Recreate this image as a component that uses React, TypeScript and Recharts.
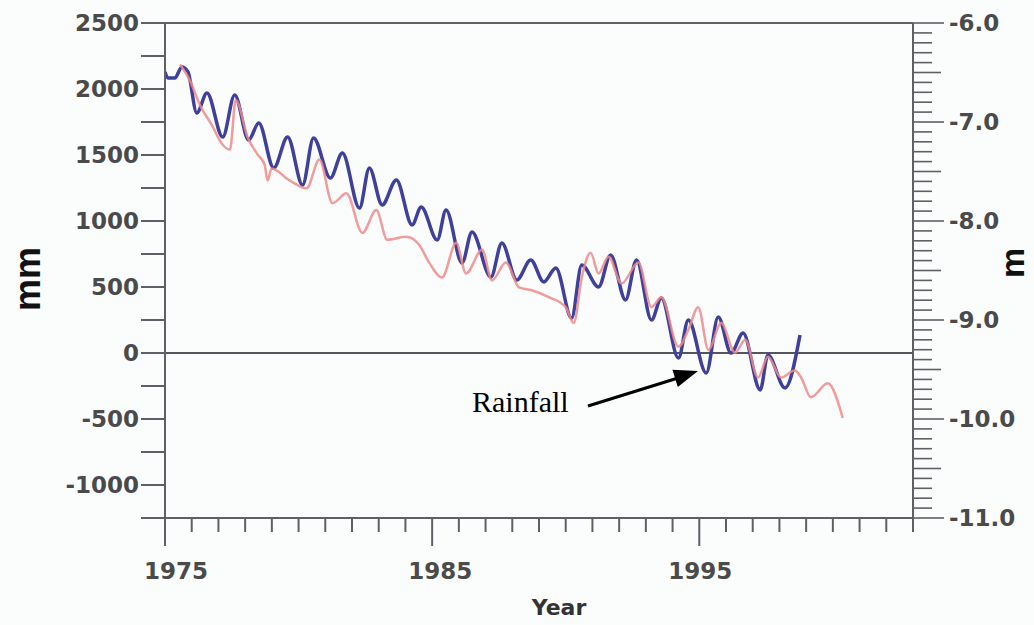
import React from 'react';
import { LineChart, Line, XAxis, YAxis, ReferenceLine } from 'recharts';

// ---- data ----
const rainfallYears = [1975.0, 1975.11, 1975.37, 1975.63, 1975.86, 1976.19, 1976.57, 1977.16, 1977.61, 1978.13, 1978.51, 1979.07, 1979.59, 1980.15, 1980.56, 1981.19, 1981.64, 1982.28, 1982.65, 1983.13, 1983.66, 1984.25, 1984.59, 1985.19, 1985.52, 1986.12, 1986.49, 1987.2, 1987.61, 1988.17, 1988.69, 1989.18, 1989.63, 1990.22, 1990.6, 1991.23, 1991.68, 1992.24, 1992.65, 1993.21, 1993.58, 1994.22, 1994.59, 1995.26, 1995.71, 1996.19, 1996.64, 1997.28, 1997.57, 1998.21, 1998.77];
const rainfallMm = [2129, 2083, 2083, 2167, 2129, 1818, 1970, 1636, 1955, 1614, 1742, 1402, 1636, 1273, 1629, 1326, 1515, 1098, 1402, 1121, 1311, 970, 1106, 856, 1083, 682, 917, 576, 833, 553, 705, 538, 644, 265, 667, 500, 742, 402, 705, 250, 417, -38, 250, -152, 273, 0, 152, -280, -15, -265, 136];

const levelYears = [1975.56, 1975.93, 1976.31, 1976.75, 1977.16, 1977.43, 1977.65, 1978.1, 1978.47, 1978.73, 1978.84, 1978.99, 1979.66, 1980.3, 1980.78, 1981.27, 1981.79, 1982.39, 1982.91, 1983.32, 1984.03, 1984.51, 1984.89, 1985.37, 1985.9, 1986.27, 1986.87, 1987.24, 1987.76, 1988.25, 1988.73, 1989.37, 1990.0, 1990.3, 1990.6, 1990.93, 1991.23, 1991.6, 1992.09, 1992.72, 1993.21, 1993.58, 1994.22, 1994.59, 1994.96, 1995.34, 1995.82, 1996.34, 1996.72, 1997.2, 1997.57, 1998.06, 1998.58, 1998.81, 1999.18, 1999.81, 2000.37];
const levelM = [-6.42, -6.58, -6.83, -7.03, -7.23, -7.28, -6.78, -7.16, -7.33, -7.43, -7.59, -7.47, -7.59, -7.67, -7.38, -7.82, -7.72, -8.12, -7.89, -8.19, -8.16, -8.24, -8.42, -8.57, -8.22, -8.53, -8.29, -8.6, -8.42, -8.67, -8.7, -8.77, -8.87, -9.03, -8.57, -8.32, -8.53, -8.36, -8.63, -8.42, -8.87, -8.77, -9.27, -9.1, -8.87, -9.3, -9.03, -9.33, -9.2, -9.58, -9.37, -9.58, -9.51, -9.58, -9.78, -9.64, -9.99];

const leftLabelTicks = [2500, 2000, 1500, 1000, 500, 0, -500, -1000];
const rightLabelTicks = [-6, -7, -8, -9, -10, -11];
const yearLabelTicks = [1975, 1985, 1995];

// ---- axis tick positions ----
const leftTicks: number[] = [];
for (let v = -1250; v <= 2500; v += 250) leftTicks.push(v);
const rightTicks: number[] = [];
for (let i = 0; i <= 50; i++) rightTicks.push(Math.round((-11 + i * 0.1) * 10) / 10);
const yearTicks: number[] = [];
for (let y = 1975; y <= 2003; y++) yearTicks.push(y);

const rainfallData = rainfallYears.map((year, i) => ({ year, v: rainfallMm[i] }));
const levelData = levelYears.map((year, i) => ({ year, v: levelM[i] }));

const AXIS = '#5f5f66';
const LABEL = '#4a4a4a';
const FONT = '"DejaVu Sans", Verdana, sans-serif';

const LeftTick = (props: any) => {
  const { x, y, payload } = props;
  const v = payload.value;
  const labeled = leftLabelTicks.includes(v);
  return (
    <g>
      <line x1={x - 24} x2={x} y1={y} y2={y} stroke={AXIS} strokeWidth={2} />
      {labeled && (
        <text x={x - 26} y={y} dy="0.36em" textAnchor="end" fontFamily={FONT} fontWeight="bold" fontSize={23} fill={LABEL}>
          {v}
        </text>
      )}
    </g>
  );
};

const RightTick = (props: any) => {
  const { x, y, payload } = props;
  const v = payload.value;
  const tenth = Math.round(v * 10);
  const major = tenth % 10 === 0;
  const half = !major && tenth % 5 === 0;
  const len = major ? 31 : half ? 28 : 19;
  return (
    <g>
      <line x1={x} x2={x + len} y1={y} y2={y} stroke={AXIS} strokeWidth={1.6} />
      {major && rightLabelTicks.includes(Math.round(v)) && (
        <text x={x + 36} y={y} dy="0.36em" textAnchor="start" fontFamily={FONT} fontWeight="bold" fontSize={23} fill={LABEL}>
          {v.toFixed(1)}
        </text>
      )}
    </g>
  );
};

const labelShift: Record<number, number> = { 1975: 11, 1985: 8, 1995: 1 };

const YearTick = (props: any) => {
  const { x, y, payload } = props;
  const v = payload.value;
  const labeled = yearLabelTicks.includes(v);
  const len = labeled ? 28 : 14;
  return (
    <g>
      <line x1={x} x2={x} y1={y} y2={y + len} stroke={AXIS} strokeWidth={2} />
      {labeled && (
        <text x={x + (labelShift[v] || 0)} y={y + 61} textAnchor="middle" fontFamily={FONT} fontWeight="bold" fontSize={23} fill={LABEL}>
          {v}
        </text>
      )}
    </g>
  );
};

export default function App() {
  const W = 1034;
  const H = 625;
  return (
    <div style={{ position: 'absolute', left: 0, top: 0, width: W, height: H, background: '#fbfdfd' }}>
      <LineChart width={W} height={H} margin={{ top: 23, right: 0, bottom: 0, left: 0 }}>
        <XAxis
          dataKey="year"
          type="number"
          domain={[1975, 2003]}
          ticks={yearTicks}
          interval={0}
          allowDataOverflow
          height={107}
          tickSize={0}
          tickMargin={0}
          tickLine={false}
          axisLine={{ stroke: AXIS, strokeWidth: 2 }}
          tick={<YearTick />}
        />
        <YAxis
          yAxisId="left"
          orientation="left"
          type="number"
          domain={[-1250, 2500]}
          ticks={leftTicks}
          interval={0}
          allowDataOverflow
          width={165}
          tickSize={0}
          tickMargin={0}
          tickLine={false}
          axisLine={{ stroke: AXIS, strokeWidth: 2 }}
          tick={<LeftTick />}
        />
        <YAxis
          yAxisId="right"
          orientation="right"
          type="number"
          domain={[-11, -6]}
          ticks={rightTicks}
          interval={0}
          allowDataOverflow
          width={121}
          tickSize={0}
          tickMargin={0}
          tickLine={false}
          axisLine={{ stroke: AXIS, strokeWidth: 2 }}
          tick={<RightTick />}
        />
        <ReferenceLine yAxisId="left" y={2500} stroke={AXIS} strokeWidth={2} />
        <ReferenceLine yAxisId="left" y={0} stroke="#55555c" strokeWidth={2.2} />
        <Line
          data={rainfallData}
          yAxisId="left"
          dataKey="v"
          type="monotone"
          stroke="#3f3f9c"
          strokeWidth={3.5}
          dot={false}
          isAnimationActive={false}
        />
        <Line
          data={levelData}
          yAxisId="right"
          dataKey="v"
          type="monotone"
          stroke="#f08a8a"
          strokeOpacity={0.85}
          strokeWidth={2.5}
          dot={false}
          isAnimationActive={false}
        />
      </LineChart>
      <svg width={W} height={H} style={{ position: 'absolute', left: 0, top: 0, pointerEvents: 'none' }}>
        <text transform="translate(40,279) rotate(-90)" textAnchor="middle" fontFamily='"Liberation Sans", Arial, sans-serif' fontWeight="bold" fontSize={36} fill="#111">
          mm
        </text>
        <text transform="translate(1024,263) rotate(-90)" textAnchor="middle" fontFamily='"Liberation Sans", Arial, sans-serif' fontWeight="bold" fontSize={34} fill="#111">
          m
        </text>
        <text x={559} y={615} textAnchor="middle" fontFamily={FONT} fontWeight="bold" fontSize={22} fill="#333">
          Year
        </text>
        <text x={472} y={412} fontFamily='"Liberation Serif", "Times New Roman", serif' fontSize={30} fill="#000">
          Rainfall
        </text>
        <line x1={588} y1={406} x2={678} y2={378} stroke="#000" strokeWidth={3} />
        <polygon points="698,371 677.8,386.9 672.4,369.7" fill="#000" />
      </svg>
    </div>
  );
}
